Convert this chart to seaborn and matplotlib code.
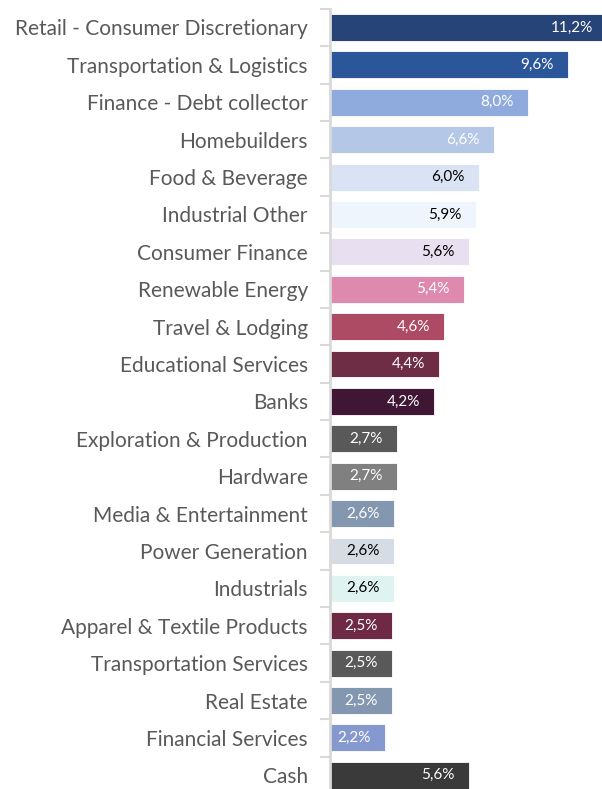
import matplotlib
matplotlib.use("Agg")
import matplotlib.pyplot as plt
import seaborn as sns
import pandas as pd

categories = [
    "Retail - Consumer Discretionary", "Transportation & Logistics", "Finance - Debt collector",
    "Homebuilders", "Food & Beverage", "Industrial Other", "Consumer Finance",
    "Renewable Energy", "Travel & Lodging", "Educational Services", "Banks",
    "Exploration & Production", "Hardware", "Media & Entertainment", "Power Generation",
    "Industrials", "Apparel & Textile Products", "Transportation Services", "Real Estate",
    "Financial Services", "Cash",
]
values = [11.2, 9.6, 8.0, 6.6, 6.0, 5.9, 5.6, 5.4, 4.6, 4.4, 4.2,
          2.7, 2.7, 2.6, 2.6, 2.6, 2.5, 2.5, 2.5, 2.2, 5.6]
labels = ["11,2%", "9,6%", "8,0%", "6,6%", "6,0%", "5,9%", "5,6%", "5,4%", "4,6%", "4,4%", "4,2%",
          "2,7%", "2,7%", "2,6%", "2,6%", "2,6%", "2,5%", "2,5%", "2,5%", "2,2%", "5,6%"]
colors = ["#264478", "#2b579a", "#8faadc", "#b4c7e7", "#dae3f3", "#eef5fd", "#e8e0f0",
          "#de8aae", "#ad4a64", "#6e2c45", "#3f1734", "#595959", "#808080", "#8497b0",
          "#d6dce4", "#dff3f1", "#6e2a44", "#595959", "#8497b0", "#8699cf", "#3a3a3a"]
label_colors = ["white", "white", "white", "white", "black", "black", "black",
                "white", "white", "white", "white", "white", "white", "white",
                "black", "black", "white", "white", "white", "white", "white"]

df = pd.DataFrame({"cat": categories, "val": values})

sns.set_theme(style="white")
plt.rcParams["font.family"] = ["Lato", "DejaVu Sans"]

W, H = 602, 789
fig = plt.figure(figsize=(W / 100, H / 100), dpi=100)
left = 330 / W
top = 8.8
bottom = 794
ax = fig.add_axes([left, 1 - bottom / H, 1 - left, (bottom - top) / H])

sns.barplot(data=df, x="val", y="cat", hue="cat", palette=colors, legend=False,
            orient="h", width=0.72, ax=ax, edgecolor="white", linewidth=0.6,
            saturation=1)

ax.set_xlim(0, (W - 330) / 24.8)
ax.set_ylim(len(categories) - 0.5, -0.5)
ax.set_xlabel("")
ax.set_ylabel("")
ax.set_xticks([])

# category labels
ax.set_yticks(range(len(categories)))
ax.set_yticklabels(categories, fontsize=15, color="#595959")
ax.tick_params(axis="y", length=0, pad=16)
# boundary tick marks
ax.set_yticks([i + 0.5 for i in range(-1, len(categories))], minor=True)
ax.tick_params(axis="y", which="minor", length=7, width=1.5, color="#d9d9d9", left=True)

for s in ["top", "right", "bottom"]:
    ax.spines[s].set_visible(False)
ax.spines["left"].set_color("#d9d9d9")
ax.spines["left"].set_linewidth(2)

for i, (v, lab, lc) in enumerate(zip(values, labels, label_colors)):
    ax.text(v - 0.58, i, lab, ha="right", va="center", fontsize=11, color=lc, clip_on=False)

fig.savefig("out.png", dpi=100)
